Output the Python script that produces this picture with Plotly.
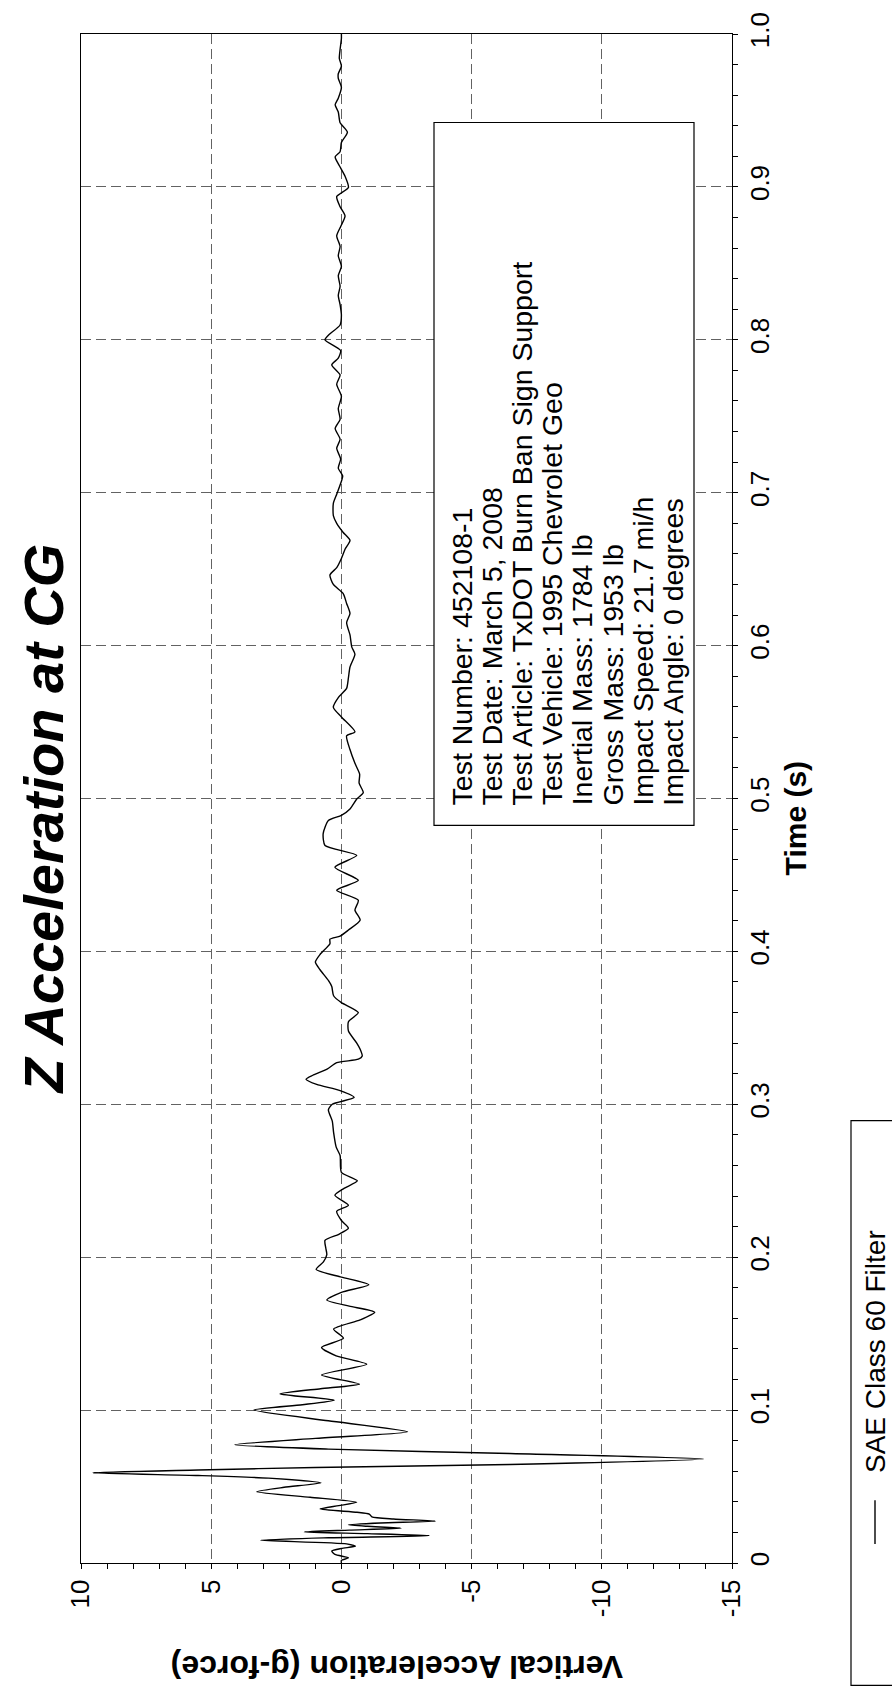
import plotly.graph_objects as go

# Vertical acceleration trace (SAE class 60 filtered)
time_s = [
    0.000, 0.0017, 0.0034, 0.0056, 0.0078, 0.0095, 0.011, 0.0125, 0.0149, 0.0165,
    0.0179, 0.0192, 0.0203, 0.0215, 0.0228, 0.024, 0.025, 0.0262, 0.0274, 0.0288,
    0.0302, 0.032, 0.0332, 0.0353, 0.0375, 0.0397, 0.043, 0.0466, 0.0495, 0.0524,
    0.0555, 0.0572, 0.059, 0.0608, 0.0625, 0.0644, 0.068, 0.0716, 0.0745, 0.0774,
    0.0815, 0.0858,
    0.093, 0.100, 0.1035, 0.1065, 0.1106, 0.114, 0.117, 0.123, 0.130, 0.1355,
    0.141, 0.147, 0.153, 0.159, 0.164, 0.168, 0.172, 0.177, 0.182, 0.187,
    0.192, 0.197, 0.2017, 0.206, 0.211, 0.215, 0.219, 0.224, 0.230, 0.234,
    0.2405, 0.245, 0.250, 0.2555, 0.2665, 0.272, 0.2817, 0.289, 0.2964, 0.300,
    0.3045, 0.309, 0.313, 0.3164, 0.319, 0.323, 0.3272, 0.3295, 0.3316, 0.336,
    0.340, 0.3479, 0.354, 0.360, 0.3665, 0.371, 0.377, 0.381, 0.388, 0.393,
    0.398, 0.405, 0.408, 0.410, 0.414, 0.4205, 0.427, 0.4335, 0.440, 0.4465,
    0.455, 0.4628, 0.4693, 0.477, 0.4856, 0.489, 0.4932, 0.4997, 0.5038, 0.510,
    0.516, 0.523, 0.532, 0.541, 0.5436, 0.5533, 0.5597, 0.566, 0.572, 0.579,
    0.586, 0.5944, 0.599, 0.607, 0.615, 0.621, 0.6276, 0.634, 0.640, 0.6462,
    0.651, 0.657, 0.663, 0.6688, 0.674, 0.680, 0.685, 0.693, 0.699, 0.706,
    0.711, 0.716, 0.722, 0.729, 0.735, 0.742, 0.748, 0.755, 0.763, 0.771,
    0.777, 0.7836, 0.788, 0.793, 0.800, 0.803, 0.8097, 0.816, 0.823, 0.829,
    0.835, 0.842, 0.848, 0.855, 0.861, 0.868, 0.874, 0.881, 0.887, 0.8937,
    0.8996, 0.907, 0.913, 0.9196, 0.923, 0.929, 0.9358, 0.942, 0.949, 0.9537,
    0.958, 0.965, 0.971, 0.974, 0.979, 0.984, 0.990, 0.997, 1.000,
]
accel_g = [
    0.0, 0.0, -0.27, 0.25, 0.37, 0.0, -0.54, -0.2, 3.1, 0.5,
    -3.37, -1.0, 1.43, -0.3, -2.29, -1.0, -0.27, -1.5, -3.62, -2.0,
    -1.17, -1.07, -0.6, 0.82, 0.1, -0.59, 1.2, 3.25, 2.2, 0.78,
    2.8, 5.5, 9.55, 5.5, 1.0, -6.47, -13.9, -6.47, 0.5, 4.09,
    1.0, -2.54,
    0.5, 3.36, 1.5, 0.28, 2.36, 0.8, -0.69, 0.76, -0.97, 0.2,
    0.76, -0.08, 0.3, -0.72, -1.28, -0.3, 0.56, 0.0, -1.05, 0.0,
    0.97, 0.69, 0.56, 0.6, 0.63, 0.1, -0.27, 0.0, 0.18, -0.27,
    0.25, -0.1, -0.61, 0.0, 0.05, 0.2, 0.3, 0.35, 0.5, 0.35,
    -0.49, 0.05, 0.95, 1.36, 1.1, 0.55, 0.18, -0.65, -0.8, -0.72,
    -0.59, -0.27, -0.27, -0.65, 0.0, 0.3, 0.37, 0.5, 0.82, 1.0,
    0.82, 0.44, 0.44, 0.05, -0.27, -0.72, -0.52, -0.65, 0.18, -0.65,
    0.25, -0.59, 0.63, 0.7, 0.5, 0.0, -0.33, -0.59, -0.84, -0.68,
    -0.7, -0.52, -0.33, -0.2, -0.52, 0.0, 0.31, 0.12, -0.2, -0.27,
    -0.33, -0.52, -0.4, -0.33, -0.2, -0.33, -0.2, -0.07, 0.31, 0.44,
    0.18, 0.0, -0.14, -0.33, -0.07, 0.18, 0.31, 0.31, 0.18, 0.03,
    -0.05, 0.12, 0.03, 0.18, 0.05, 0.24, 0.05, 0.12, 0.0, 0.18,
    0.05, 0.37, 0.12, 0.03, 0.63, 0.5, 0.05, 0.0, 0.05, 0.12,
    0.05, 0.12, 0.0, 0.12, 0.05, 0.18, 0.03, -0.14, 0.05, 0.18,
    -0.27, -0.14, 0.05, 0.24, 0.05, 0.0, -0.23, 0.05, 0.12, 0.24,
    0.12, 0.0, 0.12, 0.12, 0.0, 0.08, 0.05, 0.0, 0.0,
]

accel_ticks = [10, 5, 0, -5, -10, -15]
accel_labels = ["10", "5", "0", "-5", "-10", "-15"]
time_ticks = [0, 0.1, 0.2, 0.3, 0.4, 0.5, 0.6, 0.7, 0.8, 0.9, 1.0]
time_labels = ["0", "0.1", "0.2", "0.3", "0.4", "0.5", "0.6", "0.7", "0.8", "0.9", "1.0"]

info_lines = [
    "Test Number: 452108-1",
    "Test Date: March 5, 2008",
    "Test Article: TxDOT Burn Ban Sign Support",
    "Test Vehicle: 1995 Chevrolet Geo",
    "Inertial Mass: 1784 lb",
    "Gross Mass: 1953 lb",
    "Impact Speed: 21.7 mi/h",
    "Impact Angle: 0 degrees",
]
title_text = "Z Acceleration at CG"
time_title = "Time (s)"
accel_title = "Vertical Acceleration (g-force)"
legend_text = "SAE Class 60 Filter"

W, H = 892, 1688
PL, PR, PT, PB = 81, 732, 25, 1563
FONT = "Arial, 'Liberation Sans', sans-serif"


def fx(px):
    return (px - PL) / (PR - PL)


def fy(py):
    return (PB - py) / (PB - PT)


fig = go.Figure()
fig.add_trace(go.Scatter(
    x=accel_g, y=time_s, mode="lines",
    line=dict(color="black", width=1.4, shape="spline", smoothing=0.6),
    showlegend=False, hoverinfo="skip",
))

grid = dict(showgrid=True, gridcolor="#626262", gridwidth=1, griddash="10px,5px")

fig.update_layout(
    width=W, height=H,
    margin=dict(l=PL, r=W - PR, t=PT, b=H - PB, pad=0),
    paper_bgcolor="white", plot_bgcolor="white",
    font=dict(family=FONT, color="black"),
    showlegend=False,
    xaxis=dict(
        range=[10, -15], tickmode="array", tickvals=accel_ticks, ticktext=accel_labels,
        tickangle=-90, tickfont=dict(size=26, family=FONT),
        ticks="outside", ticklen=5, tickcolor="black", tickwidth=1,
        showline=True, linecolor="black", linewidth=1.3, mirror=True,
        zeroline=False,
        minor=dict(tick0=0, dtick=1, ticks="outside", ticklen=5, tickcolor="black", showgrid=False),
        **grid,
    ),
    yaxis=dict(
        range=[0, 1], side="right", tickmode="array", tickvals=time_ticks, ticktext=time_labels,
        tickangle=-90, tickfont=dict(size=26, family=FONT),
        ticks="outside", ticklen=5, tickcolor="black", tickwidth=1,
        showline=True, linecolor="black", linewidth=1.3, mirror=True,
        zeroline=False,
        minor=dict(tick0=0, dtick=0.02, ticks="outside", ticklen=5, tickcolor="black", showgrid=False),
        **grid,
    ),
)

annotations = []
shapes = []

# chart title and axis titles
annotations.append(dict(
    text=f"<b><i>{title_text}</i></b>", xref="paper", yref="paper",
    x=fx(43), y=fy(815), xanchor="center", yanchor="middle", textangle=-90,
    showarrow=False, font=dict(size=56, family=FONT),
))
annotations.append(dict(
    text=f"<b>{time_title}</b>", xref="paper", yref="paper",
    x=fx(795), y=fy(814), xanchor="center", yanchor="middle", textangle=-90,
    showarrow=False, font=dict(size=30, family=FONT),
))
annotations.append(dict(
    text=f"<b>{accel_title}</b>", xref="paper", yref="paper",
    x=fx(397), y=fy(1667), xanchor="center", yanchor="middle", textangle=180,
    showarrow=False, font=dict(size=32, family=FONT),
))

# test information box
shapes.append(dict(
    type="rect", xref="paper", yref="paper",
    x0=fx(434), x1=fx(694), y0=fy(821), y1=fy(114),
    line=dict(color="black", width=1.2), fillcolor="white", layer="above",
))
for i, line in enumerate(info_lines):
    annotations.append(dict(
        text=line, xref="paper", yref="paper",
        x=fx(462 + i * 30.1), y=fy(803), xanchor="center", yanchor="bottom",
        textangle=-90, showarrow=False, font=dict(size=28.5, family=FONT),
    ))

# legend box
shapes.append(dict(
    type="rect", xref="paper", yref="paper",
    x0=fx(851), x1=fx(900), y0=fy(1686), y1=fy(1118),
    line=dict(color="black", width=1.2), fillcolor="white",
))
shapes.append(dict(
    type="line", xref="paper", yref="paper",
    x0=fx(875), x1=fx(875), y0=fy(1544), y1=fy(1500),
    line=dict(color="black", width=1.4),
))
annotations.append(dict(
    text=legend_text, xref="paper", yref="paper",
    x=fx(875), y=fy(1474), xanchor="center", yanchor="bottom",
    textangle=-90, showarrow=False, font=dict(size=28, family=FONT),
))

fig.update_layout(annotations=annotations, shapes=shapes)
fig.write_html("out.html")
